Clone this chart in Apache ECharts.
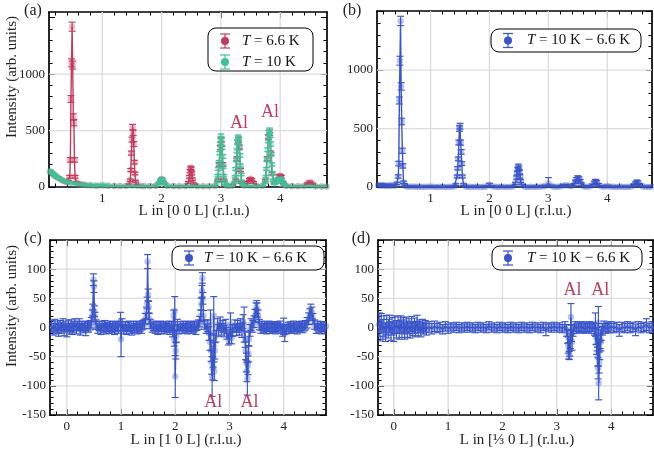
<!DOCTYPE html>
<html>
<head>
<meta charset="utf-8">
<script src="https://cdn.jsdelivr.net/npm/echarts@6/dist/echarts.min.js"></script>
<style>
  html, body { margin: 0; padding: 0; background: #fff; }
  #chart { width: 654px; height: 456px; }
</style>
</head>
<body>
<div id="chart"></div>
<script>
// ---------- measured intensities: [L (r.l.u.), intensity, error] ----------

// (a) [0 0 L] at T = 6.6 K
const scan00L_6p6K = [
  [0.12,130,8],[0.15,118,8],[0.2,100,7],[0.25,82,7],[0.3,66,6],[0.35,52,6],[0.4,42,6],
  [0.43,48,8],[0.45,90,12],[0.46,240,20],[0.47,780,30],[0.48,1100,35],[0.49,1420,40],[0.50,1080,35],
  [0.51,620,28],[0.52,570,28],[0.53,240,20],[0.54,90,12],[0.56,40,8],
  [0.6,28,5],[0.65,24,5],[0.7,20,5],[0.8,15,4],[0.9,12,4],[1.0,14,4],[1.1,10,4],[1.2,9,4],[1.3,8,4],[1.4,9,4],
  [1.45,20,6],[1.47,60,10],[1.48,150,14],[1.49,300,18],[1.5,420,22],[1.51,530,25],[1.52,480,24],
  [1.53,380,22],[1.54,220,16],[1.55,120,12],[1.56,50,8],[1.58,15,5],
  [1.65,10,4],[1.7,9,4],[1.8,8,4],[1.9,12,4],[1.97,40,8],[2.0,70,10],[2.03,40,8],[2.1,10,4],
  [2.2,8,4],[2.3,7,3],[2.4,8,3],
  [2.45,40,8],[2.47,90,12],[2.48,140,14],[2.49,170,15],[2.5,160,15],[2.51,120,13],[2.52,70,10],[2.54,30,6],
  [2.6,8,3],[2.7,7,3],[2.8,7,3],[2.9,10,4],
  [2.95,60,10],[2.97,200,16],[2.99,350,20],[3.0,420,22],[3.01,380,20],[3.03,200,16],[3.05,60,10],
  [3.1,12,4],[3.15,10,4],[3.2,15,5],
  [3.25,60,10],[3.27,250,18],[3.29,400,21],[3.3,420,22],[3.31,350,20],[3.33,150,14],[3.35,40,8],[3.4,15,5],
  [3.45,40,8],[3.48,65,10],[3.5,72,10],[3.52,65,10],[3.55,40,8],[3.6,12,4],[3.7,10,4],
  [3.75,60,10],[3.78,250,18],[3.8,440,22],[3.82,480,24],[3.84,300,18],[3.86,120,12],[3.9,40,8],
  [3.95,60,10],[3.98,95,12],[4.0,100,12],[4.02,90,12],[4.05,40,8],[4.1,12,4],[4.2,8,3],[4.3,7,3],[4.4,10,4],
  [4.46,30,6],[4.5,45,8],[4.54,30,6],[4.6,6,3],[4.7,5,3],[4.78,4,3]
];

// (a) [0 0 L] at T = 10 K
const scan00L_10K = [
  [0.11,140,10],[0.13,138,10],[0.15,125,9],[0.18,112,9],[0.2,100,8],[0.23,90,8],[0.26,80,7],[0.3,68,7],
  [0.35,56,6],[0.4,46,6],[0.45,38,5],[0.5,32,5],[0.55,28,5],[0.6,24,4],[0.65,21,4],[0.7,18,4],[0.75,16,4],
  [0.8,14,3],[0.85,13,3],[0.9,12,3],[0.95,14,3],[1.0,18,4],[1.05,12,3],[1.1,10,3],[1.2,9,3],[1.3,8,3],
  [1.4,8,3],[1.5,8,3],[1.6,7,3],[1.7,7,3],[1.8,7,3],[1.9,10,3],
  [1.95,30,6],[1.98,60,8],[2.0,70,9],[2.02,62,8],[2.05,30,6],
  [2.1,9,3],[2.2,7,3],[2.3,6,3],[2.4,6,3],[2.5,7,3],[2.6,6,3],[2.7,6,3],[2.8,7,3],[2.9,12,4],
  [2.94,50,8],[2.95,100,10],[2.96,160,12],[2.97,220,14],[2.98,300,16],[2.99,380,18],[3.0,450,20],
  [3.01,420,20],[3.02,350,18],[3.03,270,16],[3.04,180,13],[3.05,100,10],[3.06,50,8],[3.08,20,5],
  [3.12,10,4],[3.18,10,4],
  [3.23,40,7],[3.24,90,10],[3.25,160,12],[3.26,240,15],[3.27,320,17],[3.28,400,19],[3.29,440,20],
  [3.3,420,20],[3.31,360,18],[3.32,280,16],[3.33,190,13],[3.34,110,10],[3.35,50,8],[3.37,20,5],
  [3.4,10,4],[3.5,8,3],[3.6,8,3],[3.7,10,4],
  [3.75,40,7],[3.76,90,10],[3.77,160,12],[3.78,240,15],[3.79,330,17],[3.8,410,19],[3.81,480,21],
  [3.82,500,22],[3.83,460,21],[3.84,380,19],[3.85,290,16],[3.86,200,14],[3.87,120,11],[3.88,60,8],[3.9,30,6],
  [3.93,40,7],[3.96,60,8],[3.98,70,9],[4.0,72,9],[4.02,65,9],[4.04,45,7],[4.07,20,5],
  [4.1,9,3],[4.2,7,3],[4.3,6,3],[4.4,6,3],[4.5,6,3],[4.6,5,3],[4.7,5,3],[4.78,5,3]
];

// (b) [0 0 L], T = 10 K - 6.6 K
const diff00L = [
  [0.11,15,10],[0.14,12,10],[0.17,18,10],[0.2,10,10],[0.23,14,10],[0.26,8,10],[0.3,12,9],[0.33,15,9],
  [0.36,10,9],[0.4,12,9],
  [0.43,30,10],[0.45,90,14],[0.46,200,20],[0.47,740,30],[0.48,1080,38],[0.49,1420,40],[0.50,860,32],
  [0.51,560,28],[0.52,310,22],[0.53,180,18],[0.54,40,10],[0.56,10,6],
  [0.6,5,5],[0.65,3,5],[0.7,4,5],[0.75,2,5],[0.8,3,5],[0.85,1,5],[0.9,3,5],[0.95,2,5],[1.0,4,5],
  [1.05,2,5],[1.1,1,5],[1.15,3,5],[1.2,2,5],[1.25,1,5],[1.3,3,5],[1.35,2,5],[1.4,5,5],
  [1.43,20,8],[1.45,90,12],[1.46,160,14],[1.47,240,16],[1.48,380,20],[1.49,500,24],[1.50,520,25],
  [1.51,380,22],[1.52,300,20],[1.53,200,16],[1.54,90,12],[1.56,20,8],
  [1.6,3,5],[1.65,2,5],[1.7,1,5],[1.75,3,5],[1.8,2,5],[1.85,1,5],[1.9,3,5],[1.95,5,6],[2.0,20,12],
  [2.05,5,6],[2.1,2,5],[2.15,1,5],[2.2,3,5],[2.25,2,5],[2.3,1,5],[2.35,3,5],[2.4,5,5],
  [2.44,30,10],[2.46,80,14],[2.47,120,16],[2.48,150,18],[2.49,175,20],[2.5,160,19],[2.51,130,17],
  [2.52,90,14],[2.53,50,12],[2.55,15,8],
  [2.6,2,5],[2.65,1,5],[2.7,2,5],[2.75,1,5],[2.8,3,5],[2.85,2,5],[2.9,4,5],[2.95,8,8],[3.0,30,50],
  [3.05,8,8],[3.1,2,5],[3.15,3,5],[3.2,5,6],[3.25,12,8],[3.3,15,8],[3.35,10,8],[3.4,8,6],
  [3.44,20,10],[3.46,45,14],[3.48,65,16],[3.5,78,18],[3.52,70,17],[3.54,50,15],[3.56,25,10],
  [3.6,5,6],[3.65,3,5],[3.7,5,6],
  [3.75,15,10],[3.78,35,15],[3.8,45,20],[3.82,40,15],[3.85,20,10],[3.9,5,6],[3.95,3,5],[4.0,8,8],
  [4.05,3,5],[4.1,2,5],[4.15,1,5],[4.2,3,5],[4.25,2,5],[4.3,1,5],[4.35,2,5],[4.4,3,5],
  [4.45,15,10],[4.48,30,14],[4.5,42,16],[4.52,38,15],[4.55,20,10],[4.6,4,5],[4.65,2,5],[4.7,1,5],[4.75,3,5]
];

// (c) [1 0 L], T = 10 K - 6.6 K
const diff10L = [
  [-0.28,2,10],[-0.25,-3,10],[-0.22,4,10],[-0.2,-2,9],[-0.17,1,10],[-0.15,-5,10],[-0.12,3,9],[-0.1,-1,9],
  [-0.07,5,10],[-0.05,-4,10],[-0.02,2,9],[0,-6,10],[0.03,4,9],[0.05,-2,9],[0.08,3,10],[0.1,-3,9],
  [0.12,1,9],[0.15,5,10],[0.18,-2,9],[0.2,3,8],[0.23,6,9],[0.25,-4,9],[0.28,2,8],[0.3,-1,8],[0.33,3,8],
  [0.35,-5,9],[0.38,2,8],[0.4,0,8],[0.43,4,8],[0.45,8,9],
  [0.47,20,10],[0.48,30,10],[0.49,82,10],[0.5,70,10],[0.51,28,9],[0.52,18,8],[0.54,5,8],
  [0.57,-2,8],[0.6,3,8],[0.63,-4,8],[0.65,2,8],[0.68,-1,8],[0.7,4,8],[0.73,-3,8],[0.75,1,8],[0.78,-2,8],
  [0.8,3,8],[0.83,-1,8],[0.85,2,8],[0.88,-4,8],[0.9,1,8],[0.93,3,8],[0.95,-2,8],[0.99,10,16],[1.0,-20,30],
  [1.02,5,10],[1.05,-3,8],[1.08,2,8],[1.1,-4,8],[1.13,1,8],[1.15,3,8],[1.18,-2,8],[1.2,-5,8],[1.23,2,8],
  [1.25,-1,8],[1.28,3,8],[1.3,-3,8],[1.33,0,8],[1.35,2,8],[1.38,-2,8],[1.4,4,8],[1.43,6,8],[1.45,15,9],
  [1.47,25,10],[1.48,42,10],[1.49,113,12],[1.5,56,10],[1.51,35,10],[1.52,15,9],[1.54,6,8],
  [1.57,0,8],[1.6,3,8],[1.63,-2,8],[1.65,2,8],[1.68,-4,8],[1.7,1,8],[1.73,3,8],[1.75,-2,8],[1.78,2,8],
  [1.8,-3,8],[1.83,1,8],[1.85,-1,8],[1.88,3,8],[1.9,-4,8],[1.93,2,8],[1.95,-6,10],[1.97,20,10],
  [1.98,-20,12],[1.99,28,25],[2.0,-84,36],[2.01,-40,14],[2.02,-15,10],[2.04,5,9],[2.07,-3,8],[2.1,2,8],
  [2.13,-2,8],[2.15,3,8],[2.18,-1,8],[2.2,2,8],[2.23,-3,8],[2.25,1,8],[2.28,3,8],[2.3,-2,8],[2.33,0,8],
  [2.35,2,8],[2.38,-4,8],[2.4,3,8],[2.43,5,8],[2.45,10,9],
  [2.47,20,10],[2.48,40,10],[2.49,62,10],[2.5,85,9],[2.51,50,10],[2.52,20,9],[2.54,5,8],
  [2.57,-2,8],[2.6,3,10],[2.62,-10,12],[2.64,-25,14],[2.65,10,20],[2.66,-40,18],[2.67,-60,20],
  [2.68,-84,34],[2.69,-70,20],[2.7,-50,18],[2.71,20,33],[2.72,-75,16],[2.73,-40,14],[2.75,-15,10],
  [2.78,5,10],[2.8,-5,10],[2.83,8,10],[2.85,-3,10],[2.88,2,10],[2.9,-6,10],[2.93,4,10],[2.95,-10,10],
  [2.98,-20,10],[3.0,-15,12],[3.02,5,20],[3.04,-18,10],[3.06,-5,10],[3.1,3,10],[3.13,-4,10],[3.15,2,10],
  [3.18,-3,10],[3.2,5,10],[3.23,-5,12],[3.25,10,12],[3.27,5,30],[3.29,-20,14],[3.3,-40,15],[3.31,-60,16],
  [3.32,-75,18],[3.33,-88,28],[3.34,-65,16],[3.35,-45,14],[3.36,-20,12],[3.38,-5,10],[3.4,5,10],
  [3.43,2,10],[3.45,10,10],[3.47,20,11],[3.49,30,12],[3.5,35,11],[3.51,30,12],[3.53,20,10],[3.55,5,9],
  [3.58,-2,8],[3.6,3,8],[3.63,-1,8],[3.65,2,8],[3.68,-3,8],[3.7,1,8],[3.73,3,8],[3.75,-2,8],[3.78,2,8],
  [3.8,-1,8],[3.83,1,8],[3.85,-3,8],[3.88,2,8],[3.9,0,8],[3.93,3,8],[3.95,-2,8],[3.98,-5,10],[4.0,2,14],
  [4.02,-10,14],[4.05,-3,8],[4.08,1,8],[4.1,-2,8],[4.13,2,8],[4.15,-1,8],[4.18,3,8],[4.2,-2,8],[4.23,1,8],
  [4.25,-3,8],[4.28,2,8],[4.3,0,8],[4.33,3,8],[4.35,-1,8],[4.38,2,8],[4.4,4,8],[4.43,8,9],[4.46,15,10],
  [4.48,22,10],[4.5,30,10],[4.52,25,10],[4.54,15,9],[4.57,5,8],[4.6,-2,8],[4.63,3,8],[4.65,-1,8],
  [4.68,2,8],[4.7,-3,8],[4.73,1,8],[4.75,-2,8],[4.78,2,8]
];

// (d) [1/3 0 L], T = 10 K - 6.6 K
const diffThirdL = [
  [-0.27,5,20],[-0.25,-5,18],[-0.23,8,16],[-0.2,-3,17],[-0.18,2,18],[-0.15,-8,16],[-0.13,4,17],
  [-0.1,-2,16],[-0.08,6,15],[-0.05,-6,16],[-0.03,2,15],[0,-8,16],[0.02,5,15],[0.05,-3,15],[0.08,4,14],
  [0.1,-5,15],[0.13,6,14],[0.15,-2,15],[0.18,3,14],[0.2,-6,14],[0.23,5,13],[0.25,-3,14],[0.28,2,13],
  [0.3,-5,13],[0.33,6,13],[0.35,-2,12],[0.38,3,13],[0.4,-4,12],[0.43,8,13],[0.45,-2,12],[0.48,2,11],
  [0.5,-5,11],[0.53,4,10],[0.55,-1,10],[0.58,2,10],[0.6,-3,10],[0.65,1,9],[0.7,-2,9],[0.75,2,9],
  [0.8,-1,8],[0.85,1,8],[0.9,-3,8],[0.95,2,8],[1.0,-2,8],[1.05,1,7],[1.1,-1,7],[1.15,2,7],[1.2,-2,7],
  [1.25,1,7],[1.3,-1,7],[1.35,2,7],[1.4,-1,7],[1.45,1,7],[1.5,-2,7],[1.55,2,7],[1.6,-1,7],[1.65,1,7],
  [1.7,-2,7],[1.75,3,7],[1.8,-1,7],[1.85,1,7],[1.9,-2,7],[1.95,2,7],[2.0,-1,7],[2.05,1,7],[2.1,-2,7],
  [2.15,2,7],[2.2,-1,7],[2.25,1,7],[2.3,-2,7],[2.35,2,7],[2.4,-1,7],[2.45,1,7],[2.5,-2,7],[2.55,2,7],
  [2.6,-1,7],[2.65,1,7],[2.7,-2,7],[2.75,2,7],[2.8,-4,10],[2.85,1,7],[2.9,-1,7],[2.95,2,7],[3.0,-1,7],
  [3.05,1,7],[3.1,-2,7],[3.15,2,8],[3.18,-5,10],
  [3.2,-15,12],[3.21,-30,14],[3.22,-40,14],[3.23,-48,7],[3.24,-35,14],[3.25,-20,16],[3.26,18,23],
  [3.27,-10,14],[3.28,-25,14],[3.3,-5,10],[3.33,2,8],[3.36,-2,8],[3.4,1,8],[3.43,-1,8],[3.46,2,8],
  [3.5,-2,8],[3.53,1,8],[3.56,-1,8],[3.6,2,8],[3.63,-2,8],[3.66,1,8],[3.69,-3,10],[3.71,5,20],[3.72,-15,14],
  [3.73,-30,16],[3.74,-20,20],[3.75,-50,16],[3.76,-70,18],[3.765,8,28],[3.77,-95,29],[3.78,-60,18],
  [3.79,-40,15],[3.8,-20,16],[3.81,-25,15],[3.82,-10,12],[3.84,-3,10],[3.87,2,9],[3.9,-2,8],[3.93,1,8],
  [3.96,-1,8],[4.0,2,8],[4.05,-1,8],[4.1,1,8],[4.15,-5,10],[4.2,1,8],[4.25,-1,8],[4.3,2,8],[4.35,-1,8],
  [4.4,1,8],[4.45,-4,10],[4.5,2,8],[4.55,-1,8],[4.6,1,8],[4.65,5,10],[4.7,-1,8],[4.75,2,8],[4.78,-1,8]
];

// ---------- axes: ranges, ticks, labels ----------
const xMajor00L = [1, 2, 3, 4];
const xMajorH0L = [0, 1, 2, 3, 4];
const yMajorA = [0, 500, 1000, 1500];
const yLabelsA = [0, 500, 1000];
const yMajorDiff = [-150, -100, -50, 0, 50, 100, 150];
const yLabelsDiff = [-150, -100, -50, 0, 50, 100];
const yGridA = [500, 1000];
const yGridDiff = [-100, -50, 0, 50, 100];

// "Al" markers: [L, intensity] of label centres
const alLabelsA = [[3.305, 566], [3.83, 664]];
const alLabelsC = [[2.70, -129], [3.37, -129]];
const alLabelsD = [[3.29, 63], [3.80, 63]];

// minor tick positions between the labelled ticks
function minorSteps(from, to, step, every) {
  const out = [];
  for (let i = Math.round(from / step); i * step <= to + 1e-9; i++) {
    if (i % every !== 0) out.push(+(i * step).toFixed(4));
  }
  return out;
}

const FONT = '"Liberation Serif", "Times New Roman", serif';
const RED = '#c23a5d', GREEN = '#3fc099', BLUE = '#3a55c9';
const TEXT = '#222';

const panels = [
  { rect: { left: 49, top: 12, width: 278, height: 175 }, x: [0.1, 4.79], y: [0, 1550],
    xMajor: xMajor00L, xMinor: minorSteps(0.2, 4.79, 0.2, 5),
    yMajor: yMajorA, yLabels: yLabelsA, yMinor: minorSteps(100, 1550, 100, 5),
    xGrid: xMajor00L, yGrid: yGridA,
    sets: [[scan00L_6p6K, RED], [scan00L_10K, GREEN]], al: alLabelsA },
  { rect: { left: 377, top: 11, width: 275, height: 176 }, x: [0.09, 4.76], y: [0, 1505],
    xMajor: xMajor00L, xMinor: minorSteps(0.2, 4.76, 0.2, 5),
    yMajor: yMajorA, yLabels: yLabelsA, yMinor: minorSteps(100, 1505, 100, 5),
    xGrid: xMajor00L, yGrid: yGridA,
    sets: [[diff00L, BLUE]], al: [] },
  { rect: { left: 50, top: 240, width: 276, height: 175 }, x: [-0.31, 4.78], y: [-150, 150],
    xMajor: xMajorH0L, xMinor: minorSteps(-0.2, 4.78, 0.2, 5),
    yMajor: yMajorDiff, yLabels: yLabelsDiff, yMinor: minorSteps(-140, 140, 10, 5),
    xGrid: xMajorH0L, yGrid: yGridDiff,
    sets: [[diff10L, BLUE]], al: alLabelsC },
  { rect: { left: 378, top: 240, width: 275, height: 175 }, x: [-0.29, 4.77], y: [-150, 150],
    xMajor: xMajorH0L, xMinor: minorSteps(-0.2, 4.77, 0.2, 5),
    yMajor: yMajorDiff, yLabels: yLabelsDiff, yMinor: minorSteps(-140, 140, 10, 5),
    xGrid: xMajorH0L, yGrid: yGridDiff,
    sets: [[diffThirdL, BLUE]], al: alLabelsD }
];

// ---------- build grids / axes ----------
const grids = [], xAxes = [], yAxes = [], series = [];

function frameAxis(dim, gridIndex, pos, range, ticks, labels, minor) {
  const isLabelSide = !minor && (pos === 'bottom' || pos === 'left');
  return {
    type: 'value', gridIndex, position: pos, min: range[0], max: range[1],
    axisLine: { show: !minor, onZero: false, lineStyle: { color: '#000', width: 1.7 } },
    axisTick: { show: true, inside: true, length: minor ? 3.5 : 6, customValues: ticks,
                lineStyle: { color: '#000', width: 1 } },
    axisLabel: { show: isLabelSide, customValues: labels || ticks, margin: dim === 'x' ? 5 : 4,
                 color: TEXT, fontFamily: FONT, fontSize: 13, formatter: v => String(v) },
    splitLine: { show: false },
    minorTick: { show: false },
    axisPointer: { show: false }
  };
}

// main grids (0..3) then overlaid minor-tick grids (4..7)
[false, true].forEach(minor => {
  panels.forEach(p => {
    const gi = grids.length;
    grids.push(Object.assign({ containLabel: false }, p.rect));
    xAxes.push(frameAxis('x', gi, 'bottom', p.x, minor ? p.xMinor : p.xMajor, minor ? null : p.xMajor, minor));
    xAxes.push(frameAxis('x', gi, 'top', p.x, minor ? p.xMinor : p.xMajor, null, minor));
    yAxes.push(frameAxis('y', gi, 'left', p.y, minor ? p.yMinor : p.yMajor, minor ? null : p.yLabels, minor));
    yAxes.push(frameAxis('y', gi, 'right', p.y, minor ? p.yMinor : p.yMajor, null, minor));
  });
});

// vertical error bar with end caps
function errorBarItem(params, api) {
  const x = api.value(0), y = api.value(1), e = api.value(2);
  const lo = api.coord([x, y - e]);
  const hi = api.coord([x, y + e]);
  const w = 3.5;
  const style = { stroke: api.visual('color'), lineWidth: 1.15 };
  return {
    type: 'group',
    children: [
      { type: 'line', shape: { x1: lo[0], y1: lo[1], x2: hi[0], y2: hi[1] }, style },
      { type: 'line', shape: { x1: lo[0] - w, y1: lo[1], x2: lo[0] + w, y2: lo[1] }, style },
      { type: 'line', shape: { x1: hi[0] - w, y1: hi[1], x2: hi[0] + w, y2: hi[1] }, style }
    ]
  };
}

// full-width / full-height grid line through a data value: [x, y, 0=vertical|1=horizontal]
function gridLineItem(params, api) {
  const cs = params.coordSys;
  const pt = api.coord([api.value(0), api.value(1)]);
  const shape = api.value(2) === 0
    ? { x1: pt[0], y1: cs.y, x2: pt[0], y2: cs.y + cs.height }
    : { x1: cs.x, y1: pt[1], x2: cs.x + cs.width, y2: pt[1] };
  return { type: 'line', shape, style: { stroke: '#dcdcdc', lineWidth: 1.3 } };
}

panels.forEach((p, g) => {
  const axes = { xAxisIndex: 2 * g, yAxisIndex: 2 * g };
  const gridData = p.xGrid.map(v => [v, p.y[0], 0]).concat(p.yGrid.map(v => [p.x[0], v, 1]));
  series.push(Object.assign({
    type: 'custom', data: gridData, renderItem: gridLineItem, silent: true, clip: false,
    encode: { x: 0, y: 1 }, z: 1
  }, axes));
  p.sets.forEach(([data, color], s) => {
    const zb = 2 + 3 * s;
    series.push(Object.assign({
      type: 'line', data: data.map(d => [d[0], d[1]]), showSymbol: false, silent: true,
      lineStyle: { color, width: 1.4 }, itemStyle: { color }, z: zb
    }, axes));
    series.push(Object.assign({
      type: 'scatter', data: data.map(d => [d[0], d[1]]), symbolSize: 6.5, silent: true,
      itemStyle: { color, opacity: 0.35 }, z: zb + 1
    }, axes));
    series.push(Object.assign({
      type: 'custom', data, renderItem: errorBarItem, silent: true, clip: true,
      encode: { x: 0, y: 1 }, itemStyle: { color }, z: zb + 2
    }, axes));
  });
  if (p.al.length) {
    series.push(Object.assign({
      type: 'line', data: [], z: 20, silent: true,
      markPoint: {
        silent: true, symbol: 'circle', symbolSize: 1, animation: false,
        itemStyle: { color: 'rgba(0,0,0,0)' },
        label: { show: true, position: 'inside', formatter: 'Al', color: RED,
                 fontFamily: FONT, fontSize: 18 },
        data: p.al.map(c => ({ coord: c }))
      }
    }, axes));
  }
});

// ---------- legends, titles, panel letters ----------
function legendGlyph(cx, cy, color) {
  const st = { stroke: color, lineWidth: 1.2 };
  return [
    { type: 'line', z: 101, shape: { x1: cx, y1: cy - 7, x2: cx, y2: cy + 7 }, style: st },
    { type: 'line', z: 101, shape: { x1: cx - 5, y1: cy - 7, x2: cx + 5, y2: cy - 7 }, style: st },
    { type: 'line', z: 101, shape: { x1: cx - 5, y1: cy + 7, x2: cx + 5, y2: cy + 7 }, style: st },
    { type: 'circle', z: 102, shape: { cx, cy, r: 4 }, style: { fill: color } }
  ];
}
function legendText(x, y, text) {
  return {
    type: 'text', z: 102, x, y,
    style: {
      text, fill: '#111', fontFamily: FONT, fontSize: 15, align: 'left', verticalAlign: 'middle',
      rich: { i: { fontStyle: 'italic', fontFamily: FONT, fontSize: 15, fill: '#111' } }
    }
  };
}
function legendBox(x, y, w, h) {
  return { type: 'rect', z: 100, shape: { x, y, width: w, height: h, r: 8 },
           style: { fill: '#fff', stroke: '#000', lineWidth: 1 } };
}
function plainText(x, y, text, size, rotation) {
  return {
    type: 'text', z: 102, x, y, rotation: rotation || 0,
    style: { text, fill: TEXT, fontFamily: FONT, fontSize: size, align: 'center', verticalAlign: 'middle' }
  };
}

const graphics = [
  legendBox(208, 28, 105, 43),
  ...legendGlyph(225, 41, RED), legendText(242, 41, '{i|T} = 6.6 K'),
  ...legendGlyph(225, 62, GREEN), legendText(242, 62, '{i|T} = 10 K'),
  legendBox(491, 29, 150, 23),
  ...legendGlyph(508, 40.5, BLUE), legendText(527, 40.5, '{i|T} = 10 K \u2212 6.6 K'),
  legendBox(172, 246, 152, 24),
  ...legendGlyph(189, 258, BLUE), legendText(204, 258, '{i|T} = 10 K \u2212 6.6 K'),
  legendBox(492, 246, 150, 24),
  ...legendGlyph(508, 258, BLUE), legendText(527, 258, '{i|T} = 10 K \u2212 6.6 K'),

  plainText(12, 77, 'Intensity (arb. units)', 15, Math.PI / 2),
  plainText(12, 306, 'Intensity (arb. units)', 15, Math.PI / 2),
  plainText(194, 211, 'L in [0 0 L] (r.l.u.)', 15),
  plainText(516, 211, 'L in [0 0 L] (r.l.u.)', 15),
  plainText(186, 440, 'L in [1 0 L] (r.l.u.)', 15),
  plainText(517, 440, 'L in [\u2153 0 L] (r.l.u.)', 15),

  plainText(33, 11, '(a)', 16),
  plainText(352, 11, '(b)', 16),
  plainText(33, 239, '(c)', 16),
  plainText(361, 239, '(d)', 16)
];

const chart = echarts.init(document.getElementById('chart'), null, { renderer: 'canvas' });
chart.setOption({
  animation: false,
  backgroundColor: '#fff',
  grid: grids,
  xAxis: xAxes,
  yAxis: yAxes,
  series,
  graphic: { elements: graphics }
});
</script>
</body>
</html>
